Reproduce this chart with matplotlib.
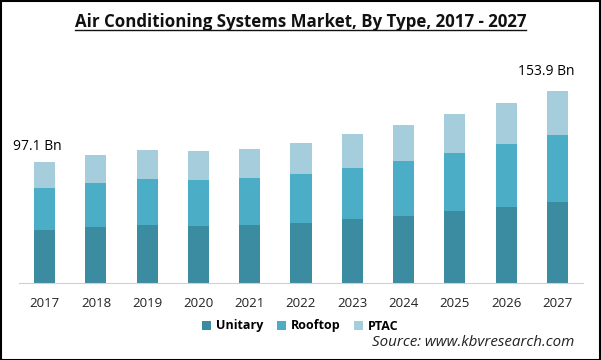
import matplotlib.pyplot as plt
import matplotlib.lines as mlines
import numpy as np

years = ["2017", "2018", "2019", "2020", "2021", "2022", "2023", "2024", "2025", "2026", "2027"]
unitary = [42.4, 44.8, 46.4, 45.6, 46.4, 48.0, 51.2, 53.6, 57.6, 60.8, 64.8]
rooftop = [33.9, 35.2, 36.8, 36.8, 37.6, 39.2, 40.8, 44.0, 46.4, 50.4, 53.6]
ptac = [20.8, 22.4, 23.2, 23.2, 23.2, 24.8, 27.2, 28.8, 31.2, 32.8, 35.5]
first_label = "97.1 Bn"
last_label = "153.9 Bn"

c_unit = "#3b8ba1"
c_roof = "#4badc6"
c_ptac = "#a6cddb"

plt.rcParams['font.family'] = ['Open Sans', 'DejaVu Sans']

fig = plt.figure(figsize=(6.01, 3.6), dpi=100)
ax = fig.add_axes([19 / 601, 1 - 283 / 360, 564 / 601, 223 / 360])

x = np.arange(len(years))
w = 0.41
u = np.array(unitary)
r = np.array(rooftop)
p = np.array(ptac)
ax.bar(x, u, w, color=c_unit, label="Unitary")
ax.bar(x, r, w, bottom=u, color=c_roof, label="Rooftop")
ax.bar(x, p, w, bottom=u + r, color=c_ptac, label="PTAC")

ax.set_xlim(-0.5, len(years) - 0.5)
ax.set_ylim(0, 178.5)
ax.set_xticks(x)
ax.set_xticklabels(years, fontsize=9.5, color="#222222")
ax.tick_params(axis="x", length=0, pad=10)
ax.set_yticks([])
for s in ["top", "right", "left"]:
    ax.spines[s].set_visible(False)
ax.spines["bottom"].set_color("#d0d0d0")

tot = u + r + p
ax.text(x[0] - 0.14, tot[0] + 6.5, first_label, fontsize=10, ha="center", va="bottom")
ax.text(x[-1] - 0.22, tot[-1] + 9.5, last_label, fontsize=10, ha="center", va="bottom")

leg = fig.legend(loc="center", bbox_to_anchor=(0.5, 1 - 326 / 360), ncol=3, frameon=False,
                 handlelength=0.7, handleheight=0.7, handletextpad=0.4,
                 columnspacing=1.1, prop={'weight': 'bold', 'size': 9})

fig.text(574 / 601, 1 - 343 / 360, "Source: www.kbvresearch.com", ha="right", va="center",
         fontsize=10.9, style="italic", color="#222222")

title = fig.text(0.5, 1 - 22 / 360, "Air Conditioning Systems Market, By Type, 2017 - 2027",
                 ha="center", va="center", fontsize=12.2, fontweight="bold", color="#111111")

# underline the title
fig.canvas.draw()
bb = title.get_window_extent().transformed(fig.transFigure.inverted())
fig.lines.append(mlines.Line2D([bb.x0, bb.x1], [bb.y0 + 0.004, bb.y0 + 0.004],
                               transform=fig.transFigure, color="#111111", lw=1))

# outer frame
fig.patches.append(plt.Rectangle((0.001, 0.001), 0.997, 0.996, transform=fig.transFigure,
                                 fill=False, edgecolor="black", lw=1.5))

fig.savefig("out.png", dpi=100)
